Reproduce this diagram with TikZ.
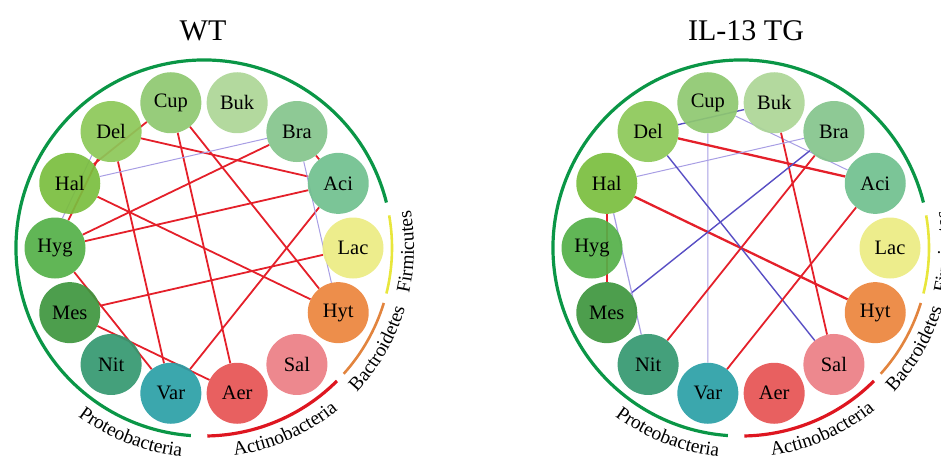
\documentclass[tikz,border=0pt]{standalone}
\usepackage{fontspec}
\setmainfont{Liberation Serif}
\usetikzlibrary{decorations.text}
\pgfdeclarelayer{bg}
\pgfsetlayers{bg,main}
\definecolor{cLac}{RGB}{236,236,130}
\definecolor{cAci}{RGB}{112,192,142}
\definecolor{cBra}{RGB}{132,196,140}
\definecolor{cBuk}{RGB}{172,214,150}
\definecolor{cCup}{RGB}{142,200,112}
\definecolor{cDel}{RGB}{140,200,88}
\definecolor{cHal}{RGB}{122,190,62}
\definecolor{cHyg}{RGB}{84,176,72}
\definecolor{cMes}{RGB}{62,150,62}
\definecolor{cNit}{RGB}{52,152,112}
\definecolor{cVar}{RGB}{42,160,166}
\definecolor{cAer}{RGB}{230,82,82}
\definecolor{cSal}{RGB}{236,126,132}
\definecolor{cHyt}{RGB}{236,132,60}
\definecolor{arcG}{RGB}{10,150,70}
\definecolor{arcR}{RGB}{222,22,32}
\definecolor{arcO}{RGB}{226,132,62}
\definecolor{arcY}{RGB}{232,230,60}
\definecolor{ered}{RGB}{228,32,42}
\definecolor{eblue}{RGB}{88,78,196}
\definecolor{elav}{RGB}{168,158,228}
\newcommand\grpfont{\fontsize{19.5}{19.5}\selectfont}
\begin{document}
\begin{tikzpicture}[x=1pt,y=1pt,
  bact/.style={circle, minimum size=61pt, inner sep=0pt, draw=none,
    font=\fontsize{20.5}{20.5}\selectfont, fill opacity=0.92, text opacity=1},
  redline/.style={draw=ered, line width=1.8pt},
  redthick/.style={draw=ered, line width=2.3pt},
  blueline/.style={draw=eblue, line width=1.4pt},
  lavline/.style={draw=elav, line width=1pt},
  grparc/.style={line width=3.2pt},
  grptext/.style={decorate, decoration={text along path, text align=center,
    text={|\grpfont|#1}}},
  titletext/.style={font=\fontsize{30}{30}\selectfont}]
\clip (0,0) rectangle (941,459);

\node[titletext] (tWT) at (203,428) {WT};
\node[titletext] (tTG) at (746,428) {IL-13 TG};

\foreach \p/\cx in {L/204, R/741} {
  \begin{scope}[shift={(\cx,211)}]
    \foreach \n [count=\i from 0] in {Lac,Aci,Bra,Buk,Cup,Del,Hal,Hyg,Mes,Nit,Var,Aer,Sal,Hyt} {
      \node[bact, fill=c\n] (\p\n) at ({\i*360/14}:149) {\n};
    }
    \draw[grparc, arcG] (14:188) arc[start angle=14, end angle=266, radius=188];
    \draw[grparc, arcR] (271:188) arc[start angle=271, end angle=315, radius=188];
    \draw[grparc, arcO, line width=2.6pt] (318:188) arc[start angle=318, end angle=343, radius=188];
    \draw[grparc, arcY, line width=2.6pt] (346:188) arc[start angle=346, end angle=370, radius=188];
    \path[grptext=Proteobacteria] (228:210) arc[start angle=228, end angle=269, radius=210];
    \path[grptext=Actinobacteria] (274:210) arc[start angle=274, end angle=314, radius=210];
    \path[grptext=Bactroidetes] (315:210) arc[start angle=315, end angle=345, radius=210];
    \path[grptext=Firmicutes] (344:210) arc[start angle=344, end angle=374, radius=210];
  \end{scope}
}

\begin{pgfonlayer}{bg}
  % WT
  \draw[redline] (LCup) -- (LHal);
  \draw[redline] (LDel) -- (LHyg);
  \draw[lavline] (LDel.231) -- (LHyg.76);
  \draw[redline] (LCup) -- (LAer);
  \draw[redline] (LCup) -- (LHyt);
  \draw[redline] (LDel) -- (LAci);
  \draw[redline] (LDel) -- (LVar);
  \draw[redline] (LHal) -- (LHyt);
  \draw[lavline] (LHal) -- (LBra);
  \draw[redline] (LHyg) -- (LBra);
  \draw[redline] (LHyg) -- (LAci);
  \draw[redline] (LHyg) -- (LVar);
  \draw[redline] (LMes) -- (LLac);
  \draw[redline] (LMes) -- (LAer);
  \draw[redline] (LVar) -- (LAci);
  \draw[redline] (LBra) -- (LAci);
  \draw[lavline] (LBra) -- (LHyt);
  % IL-13 TG
  \draw[blueline] (RDel) -- (RBuk);
  \draw[lavline] (RCup) -- (RVar);
  \draw[lavline] (RCup) -- (RAci);
  \draw[redline] (RBuk) -- (RSal);
  \draw[redthick] (RDel) -- (RAci);
  \draw[lavline] (RHal) -- (RBra);
  \draw[redthick] (RHal) -- (RHyt);
  \draw[blueline] (RDel) -- (RSal);
  \draw[blueline] (RBra) -- (RMes);
  \draw[redline] (RBra) -- (RNit);
  \draw[redline] (RAci) -- (RVar);
  \draw[redline] (RHal) -- (RMes);
  \draw[lavline, line width=1.2pt] (RHal) -- (RNit);
\end{pgfonlayer}
\end{tikzpicture}
\end{document}
